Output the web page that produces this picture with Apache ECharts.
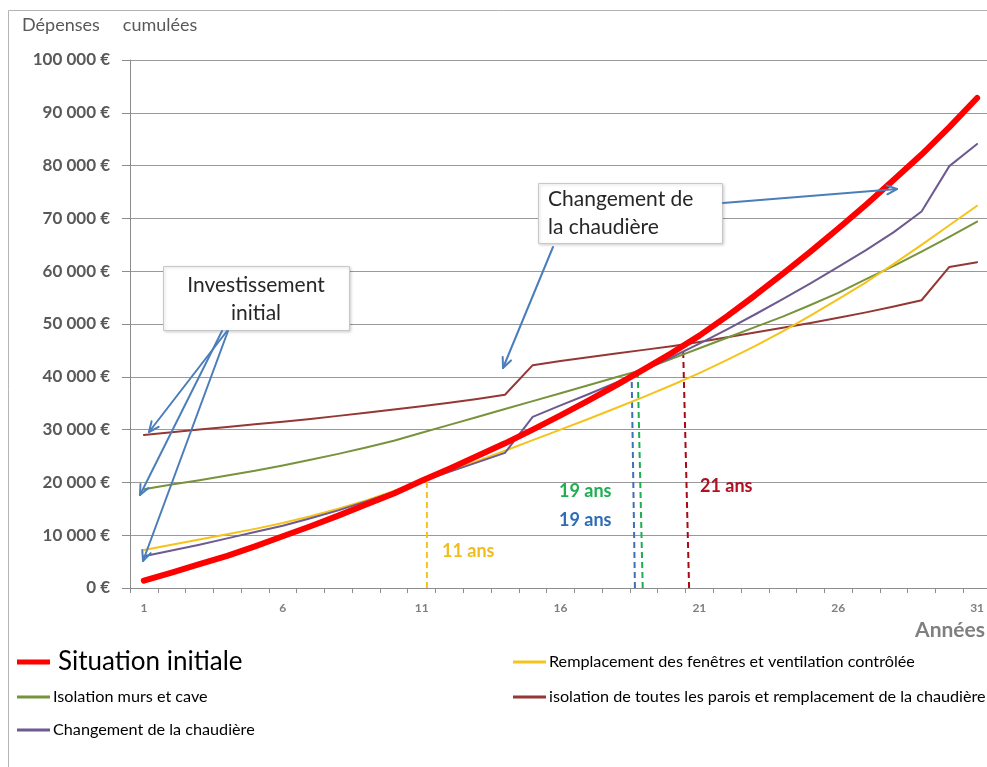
<!DOCTYPE html>
<html>
<head>
<meta charset="utf-8">
<script src="https://cdn.jsdelivr.net/npm/echarts@6/dist/echarts.min.js"></script>
<style>
  html, body { margin: 0; padding: 0; background: #fff; overflow: hidden; }
  #chart { width: 987px; height: 767px; }
</style>
</head>
<body>
<div id="chart"></div>
<script>
// Years since the start of the works (category axis)
const years = ['1','2','3','4','5','6','7','8','9','10','11','12','13','14','15','16',
  '17','18','19','20','21','22','23','24','25','26','27','28','29','30','31'];

// Cumulated spending per scenario, in euros
const situationInitiale = [1400,2900,4500,6100,7900,9800,11700,13700,15800,17900,20300,22600,25000,27400,30000,32700,
  35500,38400,41400,44500,47800,51500,55400,59500,63700,68100,72600,77300,82100,87300,92800];
const fenetresVentilation = [7200,8200,9200,10200,11200,12300,13600,15000,16600,18400,20300,22100,24000,26000,28000,30000,
  32000,34100,36200,38400,40700,43200,45800,48600,51600,54700,57900,61400,65000,68700,72400];
const isolationMursCave = [18700,19600,20400,21300,22200,23200,24300,25400,26600,27900,29400,30900,32400,33900,35400,36900,
  38400,39900,41400,43400,45400,47400,49400,51400,53600,55900,58500,61000,63700,66500,69400];
const isolationParoisChaudiere = [29000,29500,30000,30500,31000,31500,32000,32600,33200,33800,34400,35100,35800,36600,42200,43000,
  43700,44400,45100,45800,46600,47500,48400,49300,50200,51200,52200,53300,54500,60800,61700];
const changementChaudiere = [6000,7100,8200,9400,10600,11800,13200,14700,16400,18200,20200,22000,23800,25600,32400,34600,
  36700,38900,41200,43700,46300,49000,51800,54700,57700,60800,64000,67400,71300,79900,84100];

// Payback markers: [year, euros] from the axis up to the crossing point
const retour11 = [[11.19, 0], [11.19, 20500]];
const retour19Chaudiere = [[18.68, 0], [18.56, 41000]];
const retour19Murs = [[18.96, 0], [18.78, 41100]];
const retour21 = [[20.63, 0], [20.41, 46300]];

// Y axis ticks
const yMin = 0, yMax = 100000, yStep = 10000;

const NAMES = {
  init: 'Situation initiale',
  fen: 'Remplacement des fenêtres et ventilation contrôlée',
  murs: 'Isolation murs et cave',
  parois: 'isolation de toutes les parois et remplacement de la chaudière',
  chaud: 'Changement de la chaudière'
};
const COLORS = {
  init: '#ff0000', fen: '#f5c31c', murs: '#77933c', parois: '#953735', chaud: '#6d5a8f'
};

const FONT = 'Lato, "Open Sans", sans-serif';

function euro(v) {
  return String(v).replace(/\B(?=(\d{3})+(?!\d))/g, ' ') + ' €';
}

function arrow(x1, y1, x2, y2) {
  const ang = Math.atan2(y2 - y1, x2 - x1);
  const L = 11, a = 0.42;
  const p1 = [x2 - L * Math.cos(ang - a), y2 - L * Math.sin(ang - a)];
  const p2 = [x2 - L * Math.cos(ang + a), y2 - L * Math.sin(ang + a)];
  const st = { stroke: '#4a7ebb', lineWidth: 2, fill: null, lineCap: 'round', lineJoin: 'round' };
  return [
    { type: 'line', z: 100, silent: true, shape: { x1, y1, x2, y2 }, style: st },
    { type: 'polyline', z: 100, silent: true, shape: { points: [p1, [x2, y2], p2] }, style: st }
  ];
}

function label(text, x, y, color, size, weight) {
  return {
    type: 'text', z: 101, silent: true,
    style: {
      text, x, y, fill: color,
      font: (weight || 'normal') + ' ' + size + 'px ' + FONT,
      align: 'left', verticalAlign: 'middle',
      textAlign: 'left', textVerticalAlign: 'middle'
    }
  };
}

function box(x, y, w, h) {
  return {
    type: 'rect', z: 99, silent: true,
    shape: { x, y, width: w, height: h },
    style: { fill: '#fff', stroke: '#c8c8c8', lineWidth: 1,
      shadowBlur: 3, shadowColor: 'rgba(0,0,0,0.18)', shadowOffsetX: 1, shadowOffsetY: 1 }
  };
}

function lineSeries(key, data, width, z) {
  return {
    name: NAMES[key], type: 'line', data, symbol: 'none', z,
    lineStyle: { color: COLORS[key], width, cap: 'round', join: 'round' },
    itemStyle: { color: COLORS[key] },
    emphasis: { disabled: true }
  };
}

function dashSeries(data, color) {
  return {
    type: 'line', xAxisIndex: 1, data, symbol: 'none', z: 5, silent: true,
    lineStyle: { color, width: 2, type: [6, 4] },
    emphasis: { disabled: true }
  };
}

function legendAt(key, left, top, size, h, gap) {
  return {
    data: [NAMES[key]], left, top, padding: 0, itemGap: 0,
    icon: 'rect', itemWidth: 33, itemHeight: h, selectedMode: false,
    textStyle: { fontSize: size, color: '#000', fontFamily: FONT, padding: [0, 0, 0, gap] }
  };
}

const chart = echarts.init(document.getElementById('chart'), null, { renderer: 'canvas' });

chart.setOption({
  animation: false,
  backgroundColor: '#fff',
  title: {
    text: 'Dépenses     cumulées', left: 22, top: 16, padding: 0,
    textStyle: { fontSize: 18, fontWeight: 'normal', color: '#595959', fontFamily: FONT }
  },
  grid: { left: 130, width: 861, top: 60, bottom: 179, containLabel: false, outerBoundsMode: 'none' },
  xAxis: [
    {
      type: 'category', data: years, boundaryGap: true,
      axisLine: { lineStyle: { color: '#8c8c8c', width: 1 } },
      axisTick: { show: true, interval: 0, length: 5, lineStyle: { color: '#8c8c8c' } },
      axisLabel: { interval: 4, margin: 14, color: '#7f7f7f', fontSize: 12, fontWeight: 'bold', fontFamily: FONT },
      splitLine: { show: false }
    },
    { type: 'value', min: 0.5, max: 31.5, show: false }
  ],
  yAxis: {
    type: 'value', min: yMin, max: yMax, interval: yStep,
    axisLine: { show: true, lineStyle: { color: '#8c8c8c', width: 1 } },
    axisTick: { show: true, length: 8, lineStyle: { color: '#8c8c8c' } },
    axisLabel: { formatter: euro, margin: 20, color: '#595959', fontSize: 17, fontWeight: 'bold', fontFamily: FONT },
    splitLine: { show: true, lineStyle: { color: '#999999', width: 1 } }
  },
  legend: [
    legendAt('init', 17, 649, 26, 5, 3),
    legendAt('fen', 513, 654, 16.2, 3, -2),
    legendAt('murs', 17, 689, 16.2, 3, -2),
    legendAt('parois', 513, 689, 16.2, 3, -2),
    legendAt('chaud', 17, 722, 16.2, 3, -2)
  ],
  series: [
    dashSeries(retour11, '#f5c31c'),
    dashSeries(retour19Chaudiere, '#3f6fb5'),
    dashSeries(retour19Murs, '#1fae50'),
    dashSeries(retour21, '#a80a14'),
    lineSeries('parois', isolationParoisChaudiere, 2, 10),
    lineSeries('murs', isolationMursCave, 2, 11),
    lineSeries('fen', fenetresVentilation, 2, 12),
    lineSeries('chaud', changementChaudiere, 2, 13),
    lineSeries('init', situationInitiale, 6, 14)
  ],
  graphic: [
    // outer frame
    { type: 'rect', z: 0, silent: true, shape: { x: 8.5, y: 10.5, width: 1000, height: 800 },
      style: { fill: null, stroke: '#b4b4b4', lineWidth: 1 } },
    // axis title
    { type: 'text', z: 101, silent: true,
      style: { text: 'Années', x: 985, y: 630, fill: '#7f7f7f', font: 'bold 21px ' + FONT,
        align: 'right', verticalAlign: 'middle', textAlign: 'right', textVerticalAlign: 'middle' } },
    // payback labels
    label('11 ans', 442, 551, '#efbd1d', 18, 'bold'),
    label('19 ans', 559, 491, '#1fae50', 18, 'bold'),
    label('19 ans', 559, 520, '#2e6db4', 18, 'bold'),
    label('21 ans', 700, 486, '#b01020', 18, 'bold'),
    // callouts
    box(163.5, 266.5, 186, 64),
    { type: 'text', z: 101, silent: true,
      style: { text: 'Investissement\ninitial', x: 256, y: 299, fill: '#262626', font: '21px ' + FONT,
        lineHeight: 28, align: 'center', verticalAlign: 'middle', textAlign: 'center', textVerticalAlign: 'middle' } },
    box(538.5, 183.5, 184, 60),
    { type: 'text', z: 101, silent: true,
      style: { text: 'Changement de\nla chaudière', x: 548, y: 213, fill: '#262626', font: '21px ' + FONT,
        lineHeight: 28, align: 'left', verticalAlign: 'middle', textAlign: 'left', textVerticalAlign: 'middle' } },
    ...arrow(227, 331, 149, 432),
    ...arrow(222, 331, 140, 495),
    ...arrow(228, 331, 143, 561),
    ...arrow(723, 203, 897, 189),
    ...arrow(553, 247, 503, 368)
  ]
});
</script>
</body>
</html>
